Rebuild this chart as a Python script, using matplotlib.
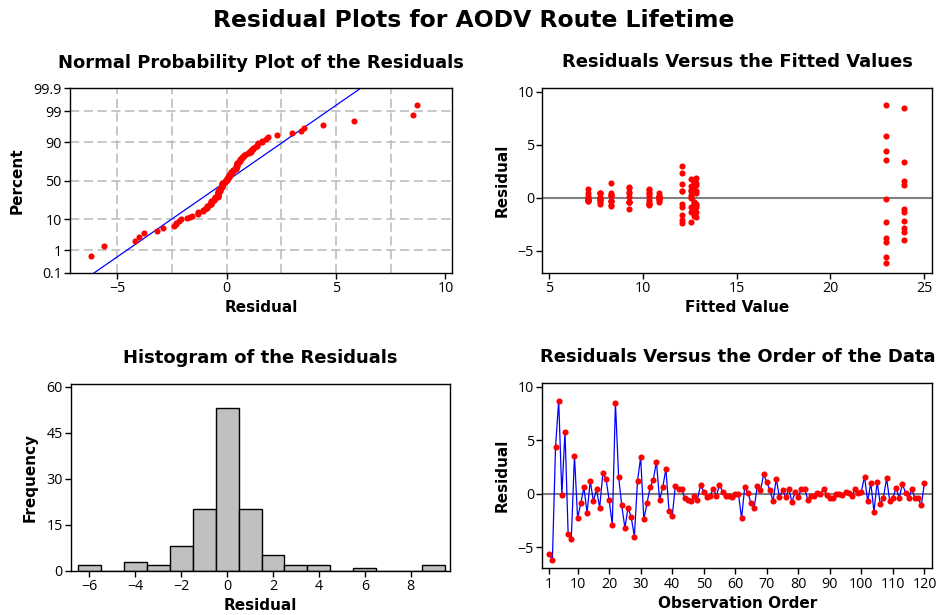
import numpy as np
import matplotlib
matplotlib.use('Agg')
import matplotlib.pyplot as plt
from statistics import NormalDist

plt.rcParams['font.family'] = ['Open Sans', 'DejaVu Sans']

# residuals in run order
resid = np.array([
    -5.6, -6.2, 4.4, 8.7, -0.1, 5.8, -3.8, -4.2, 3.55, -2.3,
    -0.9, 0.6, -1.8, 1.2, -0.7, 0.4, -1.3, 1.9, 1.4, -0.6,
    -2.9, 8.5, 1.6, -1.1, -3.2, -1.3, -2.2, -4.0, 1.2, 3.4,
    -2.4, -0.9, 0.6, 1.3, 3.0, -0.6, 0.6, 2.3, -1.6, -2.1,
    0.7, 0.45, 0.4, -0.4, -0.6, -0.7, -0.2, -0.55, 0.8, 0.2,
    -0.3, -0.2, 0.45, -0.2, 0.8, 0.2, -0.2, -0.2, -0.3, 0.0,
    0.0, -2.3, 0.6, 0.1, -0.9, -1.3, 0.7, 0.3, 1.8, 1.1,
    0.3, -0.7, 1.4, -0.3, 0.3, -0.3, 0.4, -0.8, 0.2, -0.3,
    0.45, 0.45, -0.55, -0.2, -0.2, 0.1, 0.0, 0.45, -0.1, -0.4,
    -0.4, 0.0, 0.0, -0.1, 0.2, 0.1, -0.2, 0.4, 0.1, 0.2,
    1.6, -0.7, 1.0, -1.7, 1.1, -1.0, -0.4, 1.45, -0.7, -0.4,
    0.55, -0.4, 0.9, 0.1, -0.4, 0.4, -0.4, -0.4, -1.1, 1.0,
])
# fitted value shared by each block of ten runs
block_fits = [22.94, 12.82, 23.94, 12.10, 10.34, 7.08, 12.57, 8.29, 7.71, 10.84, 12.70, 9.24]
fitted = np.repeat(block_fits, 10)
obs = np.arange(1, len(resid) + 1)

prob_ticks = [0.1, 1, 10, 50, 90, 99, 99.9]
prob_labels = ['0.1', '1', '10', '50', '90', '99', '99.9']
order_ticks = [1, 10, 20, 30, 40, 50, 60, 70, 80, 90, 100, 110, 120]
hist_edges = np.arange(-6.5, 10.0, 1.0)

W, H = 938, 615
fig = plt.figure(figsize=(W / 100, H / 100), dpi=100)


def box(l, t, r, b):
    return [l / W, 1 - b / H, (r - l) / W, (b - t) / H]


ax1 = fig.add_axes(box(70, 88.5, 452, 273))
ax2 = fig.add_axes(box(542.3, 88.3, 932.3, 272.7))
ax3 = fig.add_axes(box(71, 384, 450, 570.7))
ax4 = fig.add_axes(box(542.3, 383.3, 932.3, 568.3))

tick_fs = 10.3
bold = dict(family='DejaVu Sans', fontweight='bold')
lab = dict(fontsize=11, **bold)
ttl = dict(fontsize=13, **bold)
for ax in (ax1, ax2, ax3, ax4):
    ax.tick_params(direction='out', length=4, width=1, labelsize=tick_fs, pad=2)
    for s in ax.spines.values():
        s.set_linewidth(1)

fig.text(474 / W, 1 - 27 / H, 'Residual Plots for AODV Route Lifetime',
         ha='center', va='baseline', fontsize=16.9, **bold)

# normal probability plot
nd = NormalDist()


def z(p):
    return np.array([nd.inv_cdf(v / 100.0) for v in np.atleast_1d(p)])


srt = np.sort(resid)
n = len(srt)
pct = (np.arange(1, n + 1) - 0.3) / (n + 0.4) * 100
mu, sd = resid.mean(), resid.std(ddof=1)
for p in prob_ticks[1:-1]:
    ax1.axhline(z(p)[0], color='#b8b8b8', lw=1.1, dashes=(6, 3), zorder=1)
for xv in [-5, -2.5, 0, 2.5, 5, 7.5]:
    ax1.axvline(xv, color='#b8b8b8', lw=1.1, dashes=(6, 3), zorder=1)
zz = np.array([-3.5, 3.5])
ax1.plot(mu + sd * zz, zz, color='blue', lw=0.9, zorder=2)
ax1.plot(srt, z(pct), 'o', color='red', ms=4.4, mec='none', zorder=3)
ax1.set_xlim(-7.17, 10.3)
ax1.set_ylim(z(0.1)[0], z(99.9)[0])
ax1.set_yticks(z(prob_ticks))
ax1.set_yticklabels(prob_labels)
ax1.set_xticks([-5, 0, 5, 10])
ax1.set_xlabel('Residual', labelpad=3, **lab)
ax1.set_ylabel('Percent', labelpad=6, **lab)
ax1.set_title('Normal Probability Plot of the Residuals', pad=15, **ttl)

# residuals versus fitted values
ax2.axhline(0, color='#808080', lw=1.5, zorder=1)
ax2.plot(fitted, resid, 'o', color='red', ms=4.4, mec='none', zorder=3)
ax2.set_xlim(4.63, 25.43)
ax2.set_ylim(-7.07, 10.32)
ax2.set_xticks([5, 10, 15, 20, 25])
ax2.set_yticks([-5, 0, 5, 10])
ax2.set_xlabel('Fitted Value', labelpad=3, **lab)
ax2.set_ylabel('Residual', labelpad=6, **lab)
ax2.set_title('Residuals Versus the Fitted Values', pad=15, **ttl)

# histogram
ax3.hist(resid, bins=hist_edges, color='#c0c0c0', edgecolor='black', linewidth=1)
ax3.set_xlim(-6.8, 9.71)
ax3.set_ylim(0, 60.9)
ax3.set_xticks([-6, -4, -2, 0, 2, 4, 6, 8])
ax3.set_yticks([0, 15, 30, 45, 60])
ax3.set_xlabel('Residual', labelpad=3, **lab)
ax3.set_ylabel('Frequency', labelpad=6, **lab)
ax3.set_title('Histogram of the Residuals', pad=15, **ttl)

# residuals versus order
ax4.axhline(0, color='#808080', lw=1.5, zorder=1)
ax4.plot(obs, resid, '-', color='blue', lw=0.9, zorder=2)
ax4.plot(obs, resid, 'o', color='red', ms=4.4, mec='none', zorder=3)
ax4.set_xlim(-1.2, 122.5)
ax4.set_ylim(-6.97, 10.31)
ax4.set_xticks(order_ticks)
ax4.set_yticks([-5, 0, 5, 10])
ax4.set_xlabel('Observation Order', labelpad=3, **lab)
ax4.set_ylabel('Residual', labelpad=6, **lab)
ax4.set_title('Residuals Versus the Order of the Data', pad=15, **ttl)

fig.savefig('out.png', dpi=100)
